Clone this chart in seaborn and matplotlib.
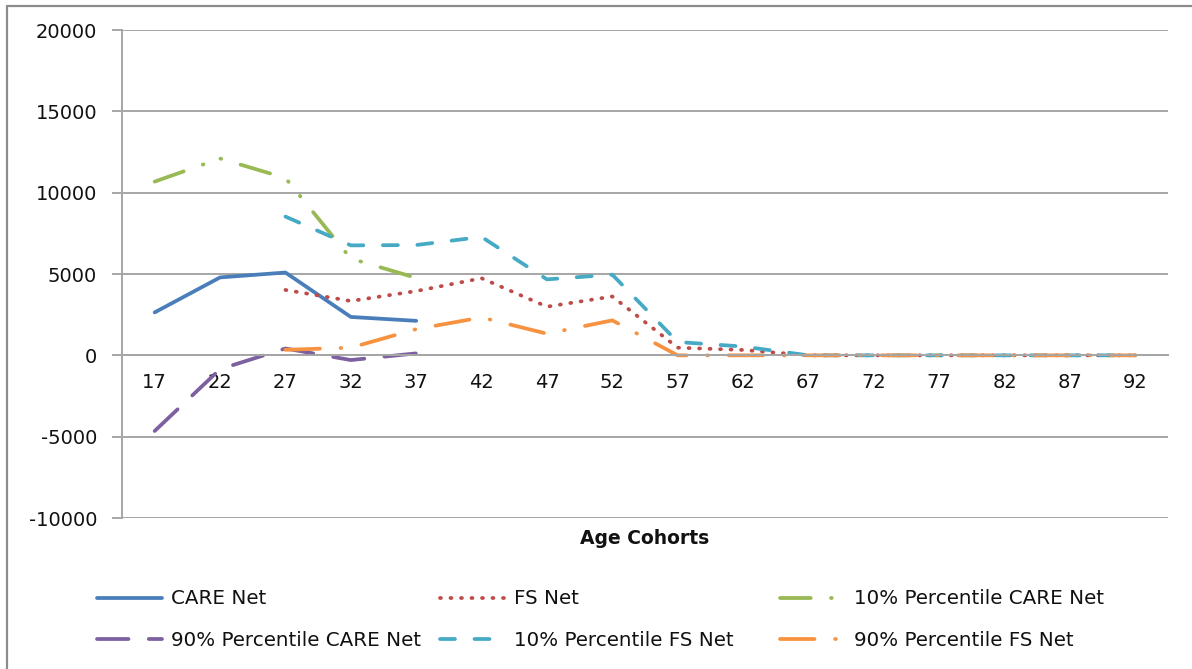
import numpy as np
import pandas as pd
import matplotlib
matplotlib.use("Agg")
import matplotlib.pyplot as plt
import seaborn as sns

# ---------------- data ----------------
ages = [17, 22, 27, 32, 37, 42, 47, 52, 57, 62, 67, 72, 77, 82, 87, 92]
nan = np.nan
care_net = [2640, 4790, 5090, 2360, 2120] + [nan] * 11
fs_net = [nan, nan, 4020, 3340, 3950, 4740, 2990, 3620, 470, 330, 0, 0, 0, 0, 0, 0]
p10_care = [10680, 12100, 10900, 5950, 4760] + [nan] * 11
p90_care = [-4650, -850, 420, -290, 120] + [nan] * 11
p10_fs = [nan, nan, 8530, 6760, 6780, 7280, 4670, 4960, 820, 540, 0, 0, 0, 0, 0, 0]
p90_fs = [nan, nan, 340, 470, 1610, 2330, 1330, 2150, 0, 0, 0, 0, 0, 0, 0, 0]

series_names = ["CARE Net", "FS Net", "10% Percentile CARE Net",
                "90% Percentile CARE Net", "10% Percentile FS Net", "90% Percentile FS Net"]
series_values = [care_net, fs_net, p10_care, p90_care, p10_fs, p90_fs]

y_ticks = [-10000, -5000, 0, 5000, 10000, 15000, 20000]

# ---------------- styles ----------------
colors = ["#4A7EBB", "#BE4B48", "#98B954", "#7D60A0", "#46AAC5", "#F69240"]
styles = [
    "-",
    (0, (0.25, 2.55)),
    (0, (8.2, 5.4, 0.2, 4.8, 0.2, 5.4)),
    (0, (8.4, 5.4)),
    (0, (4.0, 5.2)),
    (0, (9.2, 5.5, 0.2, 5.5)),
]
LW = 2.7

sns.set_style("white")
plt.rcParams["font.family"] = ["DejaVu Sans"]

W, H = 1192, 669
fig = plt.figure(figsize=(W / 100, H / 100), dpi=100)
L, R, T, B = 122, 1168, 30, 518
ax = fig.add_axes([L / W, 1 - B / H, (R - L) / W, (B - T) / H])

lines = []
for name, vals, c, ls in zip(series_names, series_values, colors, styles):
    df = pd.DataFrame({"age": ages, "value": vals}).dropna()
    n_before = len(ax.lines)
    sns.lineplot(data=df, x="age", y="value", ax=ax, color=c, linewidth=LW,
                 linestyle=ls, estimator=None, errorbar=None, sort=False, label=name)
    ln = ax.lines[n_before]
    ln.set_dash_capstyle("round")
    ln.set_solid_capstyle("round")
    ln.set_solid_joinstyle("round")
    ln.set_dash_joinstyle("round")
    lines.append(ln)

if ax.get_legend() is not None:
    ax.get_legend().remove()

grid_c = "#A6A6A6"
ax.set_ylim(-10000, 20000)
ax.set_xlim(ages[0] - 2.5, ages[-1] + 2.5)
ax.set_yticks(y_ticks)
ax.set_yticklabels([str(v) for v in y_ticks])
ax.yaxis.grid(True, color=grid_c, linewidth=1.4)
ax.xaxis.grid(False)
ax.set_axisbelow(True)

# x axis at zero, tick marks between categories, labels at category centres
ax.spines["bottom"].set_position(("data", 0))
for s in ["top", "right"]:
    ax.spines[s].set_visible(False)
for s in ["left", "bottom"]:
    ax.spines[s].set_color(grid_c)
    ax.spines[s].set_linewidth(1.4)

bounds = [a - 2.5 for a in ages] + [ages[-1] + 2.5]
ax.set_xticks(bounds)
ax.set_xticklabels([""] * len(bounds))
ax.set_xticks(ages, minor=True)
ax.set_xticklabels([str(a) for a in ages], minor=True)
ax.tick_params(axis="x", which="major", direction="out", length=5, width=1.4, color=grid_c)
ax.tick_params(axis="x", which="minor", length=0, pad=13, labelsize=14, labelcolor="#111111")
ax.tick_params(axis="y", direction="out", length=7, width=1.4, color=grid_c,
               pad=11, labelsize=14, labelcolor="#111111", left=True)
ax.set_xlabel("")
ax.set_ylabel("")

fig.text(645 / W, 1 - 538 / H, "Age Cohorts", ha="center", va="center",
         fontsize=13.5, fontweight="bold", color="#111111")

# legend: 3 columns x 2 rows
col_x = [97, 440, 780]
row_y = [599, 640]
order = [(0, 0, 0), (1, 1, 0), (2, 2, 0), (3, 0, 1), (4, 1, 1), (5, 2, 1)]
for idx, col, row in order:
    fig.legend(handles=[lines[idx]], labels=[series_names[idx]], loc="center left",
               bbox_to_anchor=(col_x[col] / W, 1 - row_y[row] / H),
               frameon=False, fontsize=14.3, handlelength=3.25, handletextpad=0.5,
               borderpad=0, borderaxespad=0, labelcolor="#111111")

# chart border (top and left visible)
border_c = "#8C8C8C"
fig.add_artist(plt.Line2D([7 / W, 1], [1 - 5.5 / H, 1 - 5.5 / H], color=border_c,
                          linewidth=1.6, transform=fig.transFigure))
fig.add_artist(plt.Line2D([7 / W, 7 / W], [0, 1 - 5.5 / H], color=border_c,
                          linewidth=1.6, transform=fig.transFigure))

fig.savefig("out.png", dpi=100)
